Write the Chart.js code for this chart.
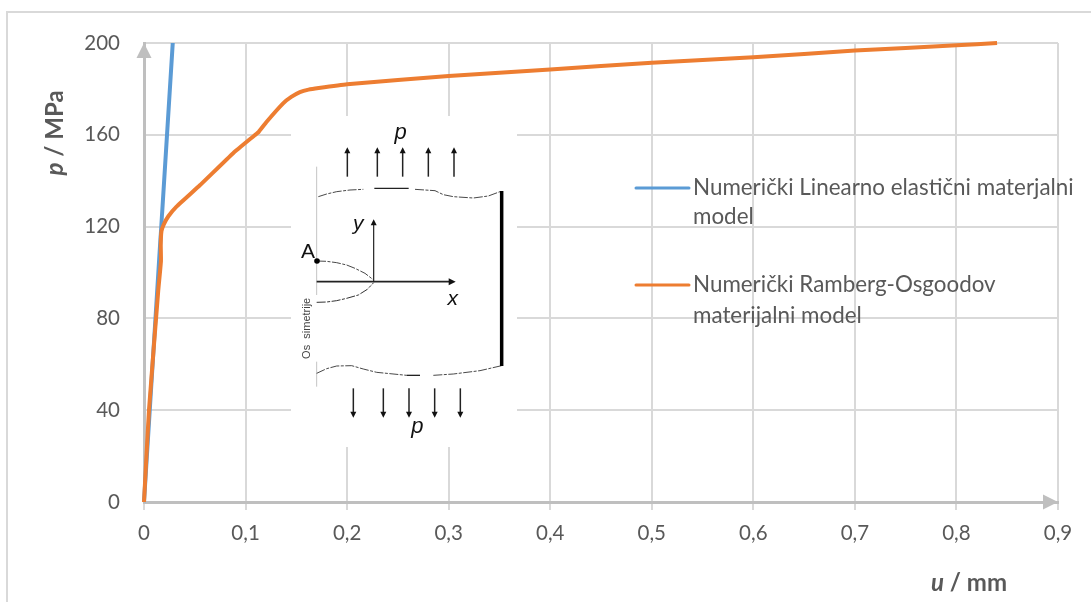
<!DOCTYPE html>
<html>

<head>
    <title>p - u</title>
    <style>
        html, body { margin: 0; padding: 0; background: #fff; overflow: hidden; }
        canvas { display: block; }
    </style>
</head>

<body>
    <canvas id="myChart" width="1091" height="602"></canvas>
    <script src="https://cdn.jsdelivr.net/npm/chart.js@4"></script>

    <script type="text/javascript">
        const uLinear = [0, 0.0283];
        const pLinear = [0, 200];
        const uRamberg = [0, 0.0049, 0.014, 0.0167, 0.0165, 0.0172, 0.0195, 0.024, 0.032, 0.055, 0.0878, 0.109, 0.113, 0.1208, 0.137, 0.145, 0.1535, 0.162, 0.172, 0.2, 0.3, 0.4, 0.5, 0.6, 0.7, 0.8, 0.84];
        const pRamberg = [0, 40, 92, 105, 112, 118, 121, 124.5, 128.7, 138, 152, 159.8, 161.3, 165.7, 173.7, 176.5, 178.6, 179.7, 180.4, 182, 185.6, 188.5, 191.4, 193.8, 196.7, 199, 200];
        const xTickLabels = ['0', '0,1', '0,2', '0,3', '0,4', '0,5', '0,6', '0,7', '0,8', '0,9'];
        const yTickLabels = ['0', '40', '80', '120', '160', '200'];
        const legendLinear = ['Numerički Linearno elastični materjalni', 'model'];
        const legendRamberg = ['Numerički Ramberg-Osgoodov', 'materijalni model'];

        const textColor = '#595959';
        const gridColor = '#d9d9d9';
        const axisColor = '#bfbfbf';
        const fontName = 'Lato';

        function pairs(xs, ys) {
            return xs.map((x, i) => ({ x: x, y: ys[i] }));
        }

        const ix = v => 280 + v / 3;
        const iy = v => 120 + v / 3;

        function tracePath(ctx, pts, width, color, dash) {
            ctx.save();
            ctx.beginPath();
            pts.forEach((p, i) => {
                if (i == 0) ctx.moveTo(ix(p[0]), iy(p[1]));
                else ctx.lineTo(ix(p[0]), iy(p[1]));
            });
            ctx.lineWidth = width;
            ctx.strokeStyle = color;
            ctx.lineJoin = 'round';
            ctx.setLineDash(dash || []);
            ctx.stroke();
            ctx.restore();
        }

        function arrowHead(ctx, x, y, dx, dy, size) {
            ctx.beginPath();
            ctx.moveTo(x, y);
            ctx.lineTo(x - dx * size - dy * size * 0.5, y - dy * size - dx * size * 0.5);
            ctx.lineTo(x - dx * size + dy * size * 0.5, y - dy * size + dx * size * 0.5);
            ctx.closePath();
            ctx.fill();
        }

        function label(ctx, text, x, y, font, color) {
            ctx.font = font;
            ctx.fillStyle = color;
            ctx.textAlign = 'center';
            ctx.textBaseline = 'middle';
            ctx.fillText(text, x, y);
        }

        function drawInset(ctx) {
            const wavy = [9, 1.5, 3, 1.5];
            ctx.save();
            ctx.fillStyle = '#fff';
            ctx.fillRect(291, 116, 226, 331);

            tracePath(ctx, [[110, 140], [110, 525]], 1, '#c4c4c4');
            tracePath(ctx, [[110, 725], [110, 800]], 1, '#c4c4c4');

            ctx.fillStyle = '#111';
            [202, 292, 368, 445, 522].forEach(x => {
                tracePath(ctx, [[x, 170], [x, 90]], 1.5, '#222');
                arrowHead(ctx, ix(x), iy(82), 0, -1, 6);
            });
            [220, 310, 387, 464, 541].forEach(x => {
                tracePath(ctx, [[x, 805], [x, 885]], 1.5, '#222');
                arrowHead(ctx, ix(x), iy(893), 0, 1, 6);
            });

            tracePath(ctx, [[115, 230], [140, 222], [170, 215], [210, 210], [250, 208]], 0.9, '#333', wavy);
            tracePath(ctx, [[283, 205], [386, 205]], 1.3, '#222');
            tracePath(ctx, [[405, 208], [465, 212], [490, 224], [520, 230], [580, 234], [625, 228], [660, 215]], 0.9, '#333', wavy);
            tracePath(ctx, [[110, 760], [140, 746], [170, 738], [215, 737], [250, 747], [290, 757], [380, 766]], 0.9, '#333', wavy);
            tracePath(ctx, [[380, 766], [420, 766]], 1.3, '#222');
            tracePath(ctx, [[460, 766], [520, 762], [600, 752], [665, 737]], 0.9, '#333', wavy);
            tracePath(ctx, [[665, 213], [665, 738]], 3.5, '#000');

            tracePath(ctx, [[281, 485], [281, 310]], 1.2, '#222');
            arrowHead(ctx, ix(281), iy(298), 0, -1, 6);
            tracePath(ctx, [[110, 485], [510, 485]], 1.8, '#222');
            arrowHead(ctx, ix(527), iy(485), 1, 0, 7);

            tracePath(ctx, [[111, 423], [140, 424], [170, 428], [200, 435], [225, 445], [255, 460], [281, 480]], 0.9, '#333', wavy);
            tracePath(ctx, [[110, 547], [140, 546], [170, 542], [200, 535], [235, 525], [262, 508], [281, 488]], 1, '#333', wavy);
            ctx.fillStyle = '#000';
            ctx.beginPath();
            ctx.arc(ix(111), iy(423), 2.8, 0, Math.PI * 2);
            ctx.fill();

            const sans = '"Liberation Sans"';
            label(ctx, 'p', ix(362), iy(38), 'italic 22px ' + sans, '#111');
            label(ctx, 'p', ix(412), iy(920), 'italic 22px ' + sans, '#111');
            label(ctx, 'y', ix(235), iy(312), 'italic 21px ' + sans, '#111');
            label(ctx, 'x', ix(518), iy(536), 'italic 21px ' + sans, '#111');
            label(ctx, 'A', ix(84), iy(396), '21px ' + sans, '#111');

            ctx.translate(ix(82), iy(625));
            ctx.rotate(-Math.PI / 2);
            label(ctx, 'Os  simetrije', 0, 0, '11px ' + sans, '#444');
            ctx.restore();
        }

        function drawLegend(chart, ctx) {
            const rows = [
                { lines: legendLinear, ys: [188, 217], dataset: chart.data.datasets[0] },
                { lines: legendRamberg, ys: [285, 315.5], dataset: chart.data.datasets[1] }
            ];
            ctx.save();
            ctx.textAlign = 'left';
            ctx.textBaseline = 'middle';
            rows.forEach(row => {
                ctx.beginPath();
                ctx.moveTo(636, row.ys[0]);
                ctx.lineTo(689, row.ys[0]);
                ctx.lineWidth = 3;
                ctx.lineCap = 'round';
                ctx.strokeStyle = row.dataset.borderColor;
                ctx.stroke();
                ctx.font = '22.4px ' + fontName;
                ctx.fillStyle = textColor;
                row.lines.forEach((line, i) => ctx.fillText(line, 693, row.ys[i]));
            });
            ctx.restore();
        }

        // one italic letter and the rest upright, a scale title cannot do this
        function mixedTitle(ctx, letter, rest, cx, cy, rotation) {
            const italic = 'italic bold 24px ' + fontName;
            const bold = 'bold 24px ' + fontName;
            ctx.save();
            ctx.translate(cx, cy);
            ctx.rotate(rotation);
            ctx.textBaseline = 'middle';
            ctx.textAlign = 'left';
            ctx.fillStyle = textColor;
            ctx.font = italic;
            const w1 = ctx.measureText(letter).width;
            ctx.font = bold;
            const w2 = ctx.measureText(rest).width;
            ctx.font = italic;
            ctx.fillText(letter, -(w1 + w2) / 2, 0);
            ctx.font = bold;
            ctx.fillText(rest, -(w1 + w2) / 2 + w1, 0);
            ctx.restore();
        }

        const extras = {
            id: 'extras',
            beforeDraw(chart) {
                const ctx = chart.ctx;
                ctx.save();
                ctx.fillStyle = '#fff';
                ctx.fillRect(0, 0, chart.width, chart.height);
                ctx.fillStyle = gridColor;
                ctx.fillRect(6, 11, chart.width - 6, 2);
                ctx.fillRect(6, 11, 2, chart.height - 11);
                ctx.restore();
            },
            beforeDatasetsDraw(chart) {
                const ctx = chart.ctx;
                const x = chart.scales.x;
                const y = chart.scales.y;
                ctx.save();
                ctx.fillStyle = axisColor;
                arrowHead(ctx, x.getPixelForValue(0), y.getPixelForValue(200), 0, -1, 15);
                arrowHead(ctx, x.getPixelForValue(0.9), y.getPixelForValue(0), 1, 0, 15);
                ctx.restore();
                drawInset(ctx);
            },
            afterDatasetsDraw(chart) {
                const ctx = chart.ctx;
                drawLegend(chart, ctx);
                mixedTitle(ctx, 'p', ' / MPa', 55, 133, -Math.PI / 2);
                mixedTitle(ctx, 'u', ' / mm', 969, 583, 0);
            }
        };

        const ctx = document.getElementById('myChart').getContext('2d');
        const myChart = new Chart(ctx, {
            type: 'scatter',
            data: {
                datasets: [{
                    label: legendLinear.join(' '),
                    data: pairs(uLinear, pLinear),
                    borderColor: '#5b9bd5',
                    borderWidth: 4,
                    showLine: true,
                    pointRadius: 0,
                    clip: false,
                    order: 2
                }, {
                    label: legendRamberg.join(' '),
                    data: pairs(uRamberg, pRamberg),
                    borderColor: '#ed7d31',
                    borderWidth: 4,
                    borderJoinStyle: 'round',
                    showLine: true,
                    pointRadius: 0,
                    tension: 0.12,
                    clip: false,
                    order: 1
                }]
            },
            options: {
                responsive: false,
                animation: false,
                layout: { padding: { top: 43, right: 33 } },
                plugins: { legend: { display: false }, title: { display: false }, tooltip: { enabled: false } },
                scales: {
                    x: {
                        type: 'linear',
                        min: 0,
                        max: 0.9,
                        afterFit(scale) { scale.height = 100; },
                        ticks: {
                            stepSize: 0.1,
                            maxRotation: 0,
                            autoSkip: false,
                            padding: 11,
                            color: textColor,
                            font: { family: fontName, size: 20.5 },
                            callback: (v, i) => xTickLabels[i]
                        },
                        grid: { color: gridColor, lineWidth: 2, tickLength: 8, tickColor: gridColor },
                        border: { color: axisColor, width: 3 }
                    },
                    y: {
                        min: 0,
                        max: 200,
                        afterFit(scale) { scale.width = 144; },
                        ticks: {
                            stepSize: 40,
                            padding: 24,
                            color: textColor,
                            font: { family: fontName, size: 20.5 },
                            callback: (v, i) => yTickLabels[i]
                        },
                        grid: { color: gridColor, lineWidth: 2, tickLength: 0, drawTicks: false },
                        border: { color: axisColor, width: 3 }
                    }
                }
            },
            plugins: [extras]
        });
    </script>
</body>

</html>
